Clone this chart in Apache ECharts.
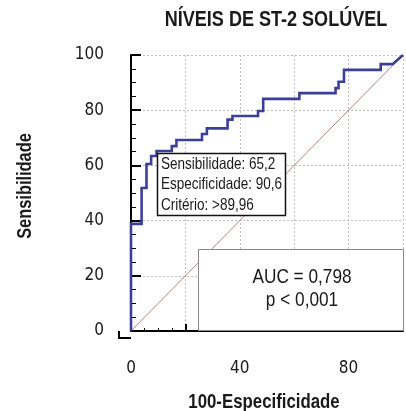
<!DOCTYPE html>
<html><head><meta charset="utf-8">
<script src="https://cdn.jsdelivr.net/npm/echarts@6/dist/echarts.min.js"></script>
<style>html,body{margin:0;padding:0;background:#fff}#c{width:406px;height:411px}</style>
</head><body><div id="c"></div>
<script>
const AXFONT = "'DejaVu Sans Condensed','Liberation Sans',sans-serif";
const FONT = "'Liberation Sans',Arial,sans-serif";
const NARROW = 0.82;
const titleText = 'NÍVEIS DE ST-2 SOLÚVEL';
const xTitle = '100-Especificidade';
const yTitle = 'Sensibilidade';
const xTicks = [0, 40, 80];
// ROC curve corners: [100-Especificidade, Sensibilidade]
const rocX = [0, 0, 3.9, 3.9, 5.7, 5.7, 7.4, 7.4, 9.4, 9.4, 15.0, 15.0, 16.7, 16.7, 26.1, 26.1, 27.9, 27.9, 35.5, 35.5, 37.3, 37.3, 46.7, 46.7, 48.6, 48.6, 61.9, 61.9, 75.2, 75.2, 76.3, 76.3, 78.3, 78.3, 91.8, 91.8, 96.2, 100];
const rocY = [0, 38.8, 38.8, 51.8, 51.8, 60.5, 60.5, 63.4, 63.4, 65.2, 65.2, 67.0, 67.0, 69.2, 69.2, 71.4, 71.4, 73.4, 73.4, 76.6, 76.6, 77.9, 77.9, 79.7, 79.7, 84.1, 84.1, 86.2, 86.2, 88.0, 88.0, 90.3, 90.3, 94.6, 94.6, 96.7, 96.7, 100];
const diagX = [0, 100];
const diagY = [0, 100];
const criterion = [9.4, 65.2];
const critLines = ['Sensibilidade: 65,2', 'Especificidade: 90,6', 'Critério: >89,96'];
const aucLines = ['AUC = 0,798', 'p < 0,001'];

const chart = echarts.init(document.getElementById('c'), null, {renderer: 'canvas'});
const grid = {left: 131, top: 55, width: 276, height: 276};
const axisCommon = {
  type: 'value', min: 0, max: 100, interval: 20,
  axisLine: {show: true, lineStyle: {color: '#000', width: 2}},
  splitLine: {show: true, lineStyle: {color: '#bdbdbd', type: [2, 2], width: 1}},
};
chart.setOption({
  animation: false,
  backgroundColor: '#fff',
  grid: grid,
  xAxis: Object.assign({}, axisCommon, {
    offset: 7,
    axisTick: {show: true, inside: true, length: 7, lineStyle: {color: '#000', width: 2}},
    minorTick: {show: true, splitNumber: 4, length: 3, lineStyle: {color: '#000', width: 1}},
    axisLabel: {margin: 22, fontFamily: AXFONT, fontSize: 17, color: '#1a1a1a',
      formatter: v => xTicks.indexOf(v) >= 0 ? String(v) : ''}
  }),
  yAxis: Object.assign({}, axisCommon, {
    offset: 12,
    axisTick: {show: true, inside: true, length: 10, lineStyle: {color: '#000', width: 2}},
    minorTick: {show: true, splitNumber: 4, length: 5, lineStyle: {color: '#000', width: 1}},
    axisLabel: {margin: 15, fontFamily: AXFONT, fontSize: 17, color: '#1a1a1a'}
  }),
  series: [
    {type: 'line', data: diagX.map((x, i) => [x, diagY[i]]), symbol: 'none', silent: true,
      lineStyle: {color: '#b88484', width: 1}, z: 2},
    {type: 'line', data: rocX.map((x, i) => [x, rocY[i]]), symbol: 'none', silent: true,
      lineStyle: {color: '#3a3f99', width: 2.6, join: 'miter'}, z: 3}
  ]
});

const p = chart.convertToPixel({gridIndex: 0}, criterion);
const bx = Math.round(p[0]), by = Math.round(p[1]) + 2;
const o0 = chart.convertToPixel({gridIndex: 0}, [0, 0]);

function txt(s, x, y, size, opts) {
  return Object.assign({
    type: 'text', z: 21, silent: true, x: x, y: y, scaleX: NARROW, scaleY: 1,
    style: Object.assign({text: s, fontFamily: FONT, fontSize: size, fill: '#1a1a1a',
      align: 'left', verticalAlign: 'middle'}, (opts && opts.style) || {})
  }, opts ? {rotation: opts.rotation || 0} : {});
}
const g = [
  {type: 'polyline', z: 10, silent: true, shape: {points: [[o0[0] - 12, o0[1]], [o0[0] - 12, o0[1] + 7], [o0[0], o0[1] + 7]]},
    style: {stroke: '#000', lineWidth: 2, fill: null}},
  {type: 'rect', z: 20, silent: true, shape: {x: bx + 0.5, y: by + 0.5, width: 128, height: 62},
    style: {fill: '#fff', stroke: '#111', lineWidth: 1.5}},
  {type: 'rect', z: 20, silent: true, shape: {x: 198.5, y: 249.5, width: 205, height: 81},
    style: {fill: '#fff', stroke: '#8a8a8a', lineWidth: 1}},
  txt(titleText, 276, 20, 22, {style: {fontWeight: 'bold', align: 'center'}}),
  txt(xTitle, 264, 402, 20.5, {style: {fontWeight: 'bold', align: 'center'}}),
  txt(yTitle, 25, 186, 20, {rotation: Math.PI / 2, style: {fontWeight: 'bold', align: 'center'}}),
];
critLines.forEach((s, i) => g.push(txt(s, bx + 4, by + 11 + i * 20.5, 16.5)));
aucLines.forEach((s, i) => g.push(txt(s, 302, 277 + i * 23, 21, {style: {align: 'center'}})));
chart.setOption({graphic: g});
</script></body></html>
